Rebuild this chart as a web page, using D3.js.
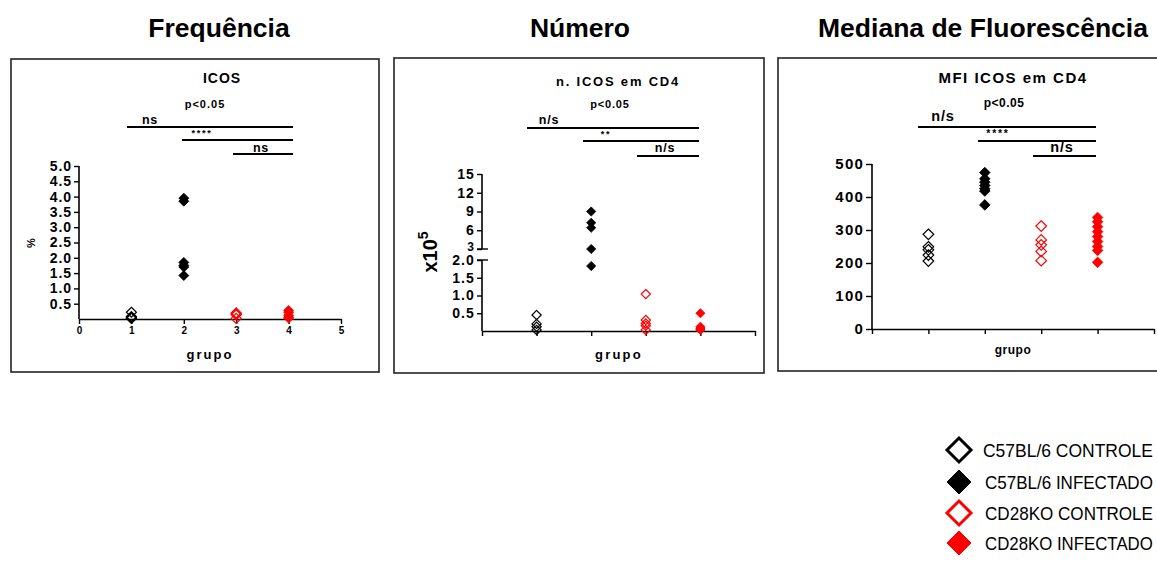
<!DOCTYPE html>
<html><head><meta charset="utf-8">
<script src="https://cdn.jsdelivr.net/npm/d3@7"></script>
<style>
body{margin:0;background:#fff;}
svg{display:block;font-family:"Liberation Sans",Arial,Helvetica,sans-serif;}
</style></head>
<body>
<svg id="chart" width="1157" height="561"></svg>
<script>
// ---------- DATA ----------
const headers = ["Frequência", "Número", "Mediana de Fluorescência"];
const seriesNames = ["C57BL/6 CONTROLE", "C57BL/6 INFECTADO", "CD28KO CONTROLE", "CD28KO INFECTADO"];
const seriesColors = ["#000000", "#000000", "#ff0000", "#ff0000"];
const seriesFilled = [false, true, false, true];
const groupIds = [1, 2, 3, 4];
const xTickValues = [0, 1, 2, 3, 4, 5];

// Panel 1: ICOS (%)
const freqC57Controle = [0.22, 0.08, 0.05, 0.03, 0.02];
const freqC57Infectado = [3.95, 3.85, 1.85, 1.75, 1.7, 1.42];
const freqKOControle = [0.2, 0.17, 0.14, 0.02];
const freqKOInfectado = [0.28, 0.22, 0.12, 0.06, 0.03];
const freqYTicks = [0.5, 1.0, 1.5, 2.0, 2.5, 3.0, 3.5, 4.0, 4.5, 5.0];
const freqSig = ["ns", "****", "ns"];

// Panel 2: n. ICOS em CD4 (x10^5), broken axis
const numC57Controle = [0.45, 0.2, 0.12, 0.03];
const numC57Infectado = [9.0, 7.2, 6.4, 3.0, 1.83];
const numKOControle = [1.04, 0.31, 0.21, 0.15, 0.03];
const numKOInfectado = [0.5, 0.12, 0.08, 0.05, 0.03];
const numYTicksLow = [0.5, 1.0, 1.5, 2.0];
const numYTicksHigh = [3, 6, 9, 12, 15];
const numSig = ["n/s", "**", "n/s"];

// Panel 3: MFI ICOS em CD4
const mfiC57Controle = [287, 249, 240, 224, 206];
const mfiC57Infectado = [474, 455, 445, 435, 425, 418, 376];
const mfiKOControle = [312, 270, 255, 235, 207];
const mfiKOInfectado = [338, 325, 310, 295, 280, 265, 250, 238, 202];
const mfiYTicks = [0, 100, 200, 300, 400, 500];
const mfiSig = ["n/s", "****", "n/s"];

// ---------- DRAW ----------
const svg = d3.select("#chart");
const diamond = r => `M0,${-r}L${r},0L0,${r}L${-r},0Z`;

// headers
const headerX = [219, 580, 983];
headers.forEach((h, i) => {
  svg.append("text").attr("x", headerX[i]).attr("y", 37)
    .attr("text-anchor", "middle").attr("font-weight", "bold")
    .attr("font-size", 26.5).text(h);
});

function box(x0, y0, x1, y1) {
  svg.append("rect").attr("x", x0).attr("y", y0).attr("width", x1 - x0).attr("height", y1 - y0)
    .attr("fill", "none").attr("stroke", "#222").attr("stroke-width", 1.6);
}

function text(x, y, t, size, opts = {}) {
  const el = svg.append("text").attr("x", x).attr("y", y).attr("font-size", size)
    .attr("text-anchor", opts.anchor || "middle").attr("font-weight", opts.weight || "bold")
    .attr("fill", opts.fill || "#000");
  if (opts.ls) el.attr("letter-spacing", opts.ls);
  el.text(t);
  return el;
}

function sigLines(ys, starts, end, labels, lpos, lsize) {
  ys.forEach((y, i) => {
    svg.append("line").attr("x1", starts[i]).attr("x2", end).attr("y1", y).attr("y2", y)
      .attr("stroke", "#000").attr("stroke-width", 2);
    const isStar = labels[i].indexOf("*") >= 0;
    text(lpos[i][0], lpos[i][1], labels[i], isStar ? lsize * 0.72 : lsize, {ls: isStar ? 1.8 : 0.8});
  });
}

function points(series, xScale, yFn, r) {
  series.forEach((vals, si) => {
    svg.append("g").selectAll("path").data(vals).join("path")
      .attr("d", diamond(r))
      .attr("transform", d => `translate(${xScale(groupIds[si])},${yFn(d)})`)
      .attr("fill", seriesFilled[si] ? seriesColors[si] : "#fff")
      .attr("fill-opacity", seriesFilled[si] ? 1 : 0)
      .attr("stroke", seriesColors[si]).attr("stroke-width", seriesFilled[si] ? 0.8 : 1.2);
  });
}

function styleAxis(g, size, ls) {
  g.selectAll(".domain").attr("stroke", "#000").attr("stroke-width", 1.6);
  g.selectAll(".tick line").attr("stroke", "#000").attr("stroke-width", 1.4);
  g.selectAll("text").attr("font-family", "Liberation Sans, Arial, sans-serif")
    .attr("font-weight", "bold").attr("font-size", size).attr("fill", "#000");
  if (ls) g.selectAll("text").attr("letter-spacing", ls);
}

// ===== Panel 1 =====
{
  box(11, 59, 379, 372);
  const x = d3.scaleLinear().domain([0, 5]).range([79, 341]);
  const y = d3.scaleLinear().domain([0, 5]).range([319, 166]);
  const gx = svg.append("g").attr("transform", "translate(0,319)")
    .call(d3.axisBottom(x).tickValues(xTickValues).tickFormat(d3.format("d")).tickSize(5).tickSizeOuter(0).tickPadding(3));
  styleAxis(gx, 10);
  const gy = svg.append("g").attr("transform", "translate(79,0)")
    .call(d3.axisLeft(y).tickValues(freqYTicks).tickFormat(d3.format(".1f")).tickSize(5).tickSizeOuter(0).tickPadding(2));
  styleAxis(gy, 14, 0.9);
  gy.select(".domain").attr("d", `M0,${y(5)}V${y(0)}`);
  text(222, 83, "ICOS", 14, {ls: 1});
  text(205, 108, "p<0.05", 11, {ls: 1});
  sigLines([127, 140, 154], [127, 182, 233], 293, freqSig,
    [[150, 124], [202, 136], [261, 152]], 12.5);
  text(210, 359, "grupo", 13, {ls: 2});
  text(0, 0, "%", 11).attr("transform", "translate(35,243) rotate(-90)");
  points([freqC57Controle, freqC57Infectado, freqKOControle, freqKOInfectado], x, y, 5);
}

// ===== Panel 2 =====
{
  box(394, 58, 764, 373);
  const x = d3.scaleLinear().domain([0, 5]).range([482, 755]);
  const yLow = d3.scaleLinear().domain([0, 2]).range([331, 260]);
  const yHigh = d3.scaleLinear().domain([3, 15]).range([249, 174]);
  const yFn = v => v > 2.5 ? yHigh(v) : yLow(v);
  const gx = svg.append("g").attr("transform", "translate(0,331)")
    .call(d3.axisBottom(x).tickValues(xTickValues).tickFormat("").tickSize(5).tickSizeOuter(0));
  styleAxis(gx, 10);
  const gyL = svg.append("g").attr("transform", "translate(482,0)")
    .call(d3.axisLeft(yLow).tickValues(numYTicksLow).tickFormat(d3.format(".1f")).tickSize(5).tickSizeOuter(0).tickPadding(2));
  styleAxis(gyL, 14, 1.1);
  gyL.select(".domain").attr("d", `M0,${yLow(2)}V${yLow(0)}`);
  const gyH = svg.append("g").attr("transform", "translate(482,0)")
    .call(d3.axisLeft(yHigh).tickValues(numYTicksHigh).tickFormat(d3.format("d")).tickSize(5).tickSizeOuter(0).tickPadding(2));
  styleAxis(gyH, 14, 1.1);
  gyH.select(".domain").attr("d", `M0,${yHigh(15)}V${yHigh(3)}`);
  gyH.selectAll(".tick text").filter(d => d === 3).attr("font-size", 12).attr("dy", "0.1em");
  // break marks
  [yHigh(3), yLow(2)].forEach(yy => {
    svg.append("line").attr("x1", 477).attr("x2", 488).attr("y1", yy).attr("y2", yy)
      .attr("stroke", "#000").attr("stroke-width", 1.4);
  });
  text(618, 86, "n. ICOS em CD4", 13, {ls: 1.8});
  text(610, 108, "p<0.05", 11, {ls: 0.8});
  sigLines([128, 141, 156], [527, 583, 637], 699, numSig,
    [[549, 124], [606, 137], [665, 152]], 12.5);
  text(619, 359, "grupo", 13, {ls: 2.2});
  const lab = svg.append("text").attr("transform", "translate(437,252) rotate(-90)")
    .attr("text-anchor", "middle").attr("font-weight", "bold").attr("font-size", 20);
  lab.append("tspan").text("x10");
  lab.append("tspan").attr("font-size", 14).attr("dy", -9).text("5");
  points([numC57Controle, numC57Infectado, numKOControle, numKOInfectado], x, yFn, 4.6);
}

// ===== Panel 3 =====
{
  box(778, 58, 1175, 371);
  const x = d3.scaleLinear().domain([0, 5]).range([872, 1154]);
  const y = d3.scaleLinear().domain([0, 500]).range([329, 164]);
  const gx = svg.append("g").attr("transform", "translate(0,329)")
    .call(d3.axisBottom(x).tickValues(xTickValues).tickFormat("").tickSize(5).tickSizeOuter(0));
  styleAxis(gx, 10);
  const gy = svg.append("g").attr("transform", "translate(872,0)")
    .call(d3.axisLeft(y).tickValues(mfiYTicks).tickFormat(d3.format("d")).tickSize(6).tickSizeOuter(0).tickPadding(2));
  styleAxis(gy, 15, 1.2);
  gy.select(".domain").attr("d", `M0,${y(500)}V${y(0)}`);
  text(1013, 83, "MFI ICOS em CD4", 15, {ls: 1.5});
  text(1004, 107, "p<0.05", 12, {ls: 0.5});
  sigLines([127, 141, 156], [918, 978, 1033], 1096, mfiSig,
    [[943, 121], [998, 137], [1062, 152]], 14.5);
  text(1013, 354, "grupo", 12, {ls: 0.5});
  points([mfiC57Controle, mfiC57Infectado, mfiKOControle, mfiKOInfectado], x, y, 5.3);
}

// ===== Legend =====
{
  const ly = [450, 482, 513, 543];
  const lx = [983, 985, 985, 985];
  seriesNames.forEach((n, i) => {
    svg.append("path").attr("d", diamond(12))
      .attr("transform", `translate(959,${ly[i]})`)
      .attr("fill", seriesFilled[i] ? seriesColors[i] : "#fff")
      .attr("stroke", seriesColors[i]).attr("stroke-width", seriesFilled[i] ? 1 : 3);
    const t = svg.append("text").attr("x", 0).attr("y", 0).attr("font-size", 18)
      .attr("text-anchor", "start").attr("fill", "#000").text(n);
    const w = t.node().getComputedTextLength();
    const avail = 1153 - lx[i];
    const sx = Math.min(1, avail / w);
    t.attr("transform", `translate(${lx[i]},${ly[i] + 6.5}) scale(${sx},1)`);
  });
}
</script>
</body></html>
